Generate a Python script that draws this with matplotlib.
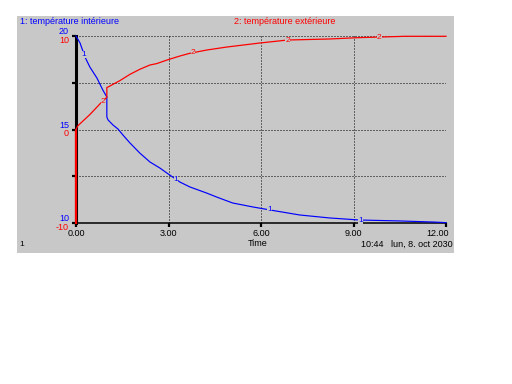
import numpy as np
import matplotlib
matplotlib.use("Agg")
import matplotlib.pyplot as plt
from matplotlib.patches import Rectangle

## Data
t_int = [0, 0.13, 0.29, 0.45, 0.68, 0.87, 1.0, 1.0, 1.04, 1.20, 1.36, 1.52, 1.75,
         2.07, 2.40, 2.72, 2.95, 3.37, 3.69, 4.24, 4.56, 5.08, 5.73, 6.28, 7.25,
         8.22, 9.19, 10.49, 11.62, 12.0]
temp_int = [20, 19.63, 18.88, 18.34, 17.75, 17.11, 16.74, 15.67, 15.51, 15.24, 15.03,
            14.71, 14.28, 13.74, 13.26, 12.94, 12.67, 12.19, 11.93, 11.60, 11.39,
            11.07, 10.86, 10.70, 10.43, 10.27, 10.16, 10.11, 10.05, 10.02]

t_ext = [0, 0, 0.06, 0.45, 0.78, 1.0, 1.0, 1.10, 1.26, 1.42, 1.75, 2.07, 2.40, 2.62,
         2.95, 3.37, 3.69, 4.24, 4.89, 5.96, 6.86, 8.22, 9.13, 10.7, 12.0]
temp_ext = [-10, 0, 0.4, 1.6, 2.75, 3.45, 4.48, 4.65, 4.94, 5.22, 5.90, 6.44, 6.90,
            7.05, 7.43, 7.86, 8.15, 8.50, 8.82, 9.25, 9.57, 9.68, 9.82, 9.97, 9.97]

lab1_t = [0.26, 3.24, 6.28, 9.22]
lab2_t = [0.87, 3.79, 6.86, 9.84]

x_ticks = [0, 3, 6, 9, 12]
x_labels = ["0.00", "3.00", "6.00", "9.00", "12.00"]
y1_ticks = [10, 12.5, 15, 17.5, 20]
y1_labels = {20: "20", 15: "15", 10: "10"}
y2_labels = {10: "10", 0: "0", -10: "-10"}

name1 = "1: température intérieure"
name2 = "2: température extérieure"

BLUE = "#0000ff"
RED = "#ff0000"
GREY = "#c8c8c8"
W, H = 512, 384

plt.rcParams['font.family'] = ['Liberation Sans', 'DejaVu Sans']
fig = plt.figure(figsize=(W / 100, H / 100), dpi=100)
fig.patch.set_facecolor("white")

## grey panel
fig.patches.append(Rectangle((17 / W, 1 - 253 / H), (454 - 17) / W, (253 - 16) / H,
                             transform=fig.transFigure, facecolor=GREY,
                             edgecolor="none", zorder=-1))

ax1 = fig.add_axes([76 / W, 1 - 223 / H, (446 - 76) / W, (223 - 36) / H])
ax1.set_facecolor("none")
ax1.set_xlim(0, 12)
ax1.set_ylim(10, 20)
ax2 = ax1.twinx()
ax2.set_ylim(-10, 10)
ax2.set_facecolor("none")
for a in (ax1, ax2):
    for s in a.spines.values():
        s.set_visible(False)
ax2.set_yticks([])

ax1.spines["left"].set_visible(True)
ax1.spines["left"].set_linewidth(2.2)
ax1.spines["bottom"].set_visible(True)
ax1.spines["bottom"].set_linewidth(1.1)
ax1.set_xticks(x_ticks)
ax1.set_xticklabels([])
ax1.set_yticks(y1_ticks)
ax1.set_yticklabels([])
ax1.tick_params(length=3, width=1.6, color="black", direction="out")

## dotted grid
dot = (0, (1, 2))
ax1.hlines(y1_ticks[1:], 0, 12, colors="black", linewidth=0.72, linestyles=dot)
ax1.vlines(x_ticks[1:-1], 10, 20, colors="black", linewidth=0.72, linestyles=dot)

## series
ax1.plot(t_int, temp_int, color=BLUE, linewidth=0.85, clip_on=False, zorder=3)
ax2.plot(t_ext, temp_ext, color=RED, linewidth=0.9, clip_on=False, zorder=3)
ax2.plot(t_ext[:2], temp_ext[:2], color=RED, linewidth=1.6, clip_on=False, zorder=3)

for t in lab1_t:
    ax1.text(t, np.interp(t, t_int[7:], temp_int[7:]) if t > 1 else np.interp(t, t_int[:7], temp_int[:7]),
             "1", color=BLUE, fontsize=6, ha="center", va="center", zorder=4,
             bbox=dict(facecolor=GREY, edgecolor="none", pad=0))
for t in lab2_t:
    ax2.text(t, np.interp(t, t_ext[6:], temp_ext[6:]) if t > 1 else np.interp(t, t_ext[1:6], temp_ext[1:6]),
             "2", color=RED, fontsize=6, ha="center", va="center", zorder=4,
             bbox=dict(facecolor=GREY, edgecolor="none", pad=0))

## axis labels
xoff = -7 / 370
for v, s in y1_labels.items():
    ax1.text(xoff, v, s, transform=ax1.get_yaxis_transform(), color=BLUE,
             fontsize=6.5, ha="right", va="bottom")
for v, s in y2_labels.items():
    ax2.text(xoff, v, s, transform=ax2.get_yaxis_transform(), color=RED,
             fontsize=6.5, ha="right", va="top")

for v, s in zip(x_ticks, x_labels):
    ha = "right" if v == x_ticks[-1] else "center"
    xx = v + 0.1 if v == x_ticks[-1] else v
    ax1.text(xx, -10 / 187, s, transform=ax1.get_xaxis_transform(), fontsize=6.5,
             ha=ha, va="center", color="black")

fig.text(20 / W, 1 - 22 / H, name1, color=BLUE, fontsize=6.5, ha="left", va="center")
fig.text(234 / W, 1 - 22 / H, name2, color=RED, fontsize=6.5, ha="left", va="center")
fig.text(258 / W, 1 - 244 / H, "Time", color="black", fontsize=6.5, ha="center", va="center")
fig.text(453 / W, 1 - 244 / H, "10:44   lun, 8. oct 2030", color="black", fontsize=6.5,
         ha="right", va="center")
fig.text(19 / W, 1 - 244 / H, "1", color="black", fontsize=6, ha="left", va="center")

fig.savefig("out.png", dpi=100)
